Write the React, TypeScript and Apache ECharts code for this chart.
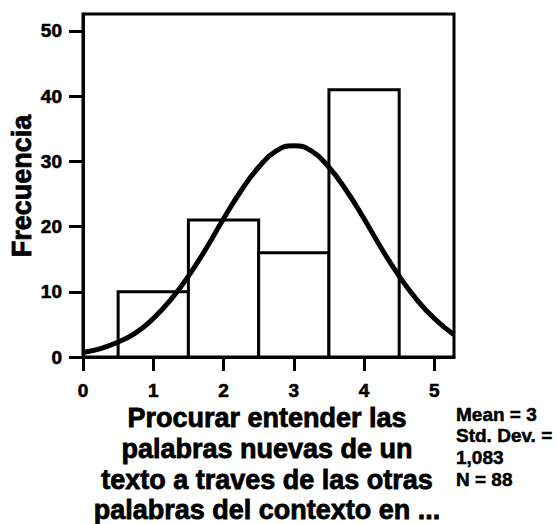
import React, { useEffect, useRef } from "react";
import * as echarts from "echarts";

const binCenters = [1, 2, 3, 4];
const binCounts = [10, 21, 16, 41];
const BIN_WIDTH = 1;

const curveX = [0, 0.25, 0.5, 0.75, 1, 1.25, 1.5, 1.75, 2, 2.25, 2.5, 2.75, 3, 3.25, 3.5, 3.75, 4, 4.25, 4.5, 4.75, 5, 5.28];
const curveY = [0.7, 1.3, 2.3, 3.7, 5.9, 8.8, 12.4, 16.6, 21.2, 25.5, 29.1, 31.6, 32.4, 31.6, 29.1, 25.5, 21.2, 16.6, 12.4, 8.8, 5.9, 3.4];

const xTicks = [0, 1, 2, 3, 4, 5];
const yTicks = [0, 10, 20, 30, 40, 50];

const yTitle = "Frecuencia";
const xTitleLines = [
  "Procurar entender las",
  "palabras nuevas de un",
  "texto a traves de las otras",
  "palabras del contexto en ...",
];
const statsLines = ["Mean = 3", "Std. Dev. =", "1,083", "N = 88"];

const FONT = "'Liberation Sans', Arial, sans-serif";

export default function App() {
  const ref = useRef<HTMLDivElement>(null);
  useEffect(() => {
    if (!ref.current) return;
    const chart = echarts.init(ref.current, null, { renderer: "svg" });
    const histData = binCenters.map((c, i) => [c, binCounts[i]]);
    const curveData = curveX.map((x, i) => [x, curveY[i]]);
    const labelStyle = {
      color: "#000",
      fontFamily: FONT,
      fontWeight: "bold",
      fontSize: 19,
      textBorderColor: "#000",
      textBorderWidth: 0.6,
    };
    chart.setOption({
      animation: false,
      backgroundColor: "#fff",
      grid: {
        left: 83,
        top: 14,
        right: 103,
        bottom: 167,
        show: true,
        borderColor: "#000",
        borderWidth: 3,
        backgroundColor: "transparent",
      },
      xAxis: {
        type: "value",
        min: 0,
        max: 5.28,
        axisLine: { show: true, lineStyle: { color: "#000", width: 3 } },
        axisTick: { show: true, customValues: xTicks, length: 14, lineStyle: { color: "#000", width: 3 } },
        axisLabel: { customValues: xTicks, margin: 24, ...labelStyle },
        splitLine: { show: false },
      },
      yAxis: {
        type: "value",
        min: 0,
        max: 52.6,
        axisLine: { show: true, lineStyle: { color: "#000", width: 3 } },
        axisTick: { show: true, customValues: yTicks, length: 14, lineStyle: { color: "#000", width: 3 } },
        axisLabel: { customValues: yTicks, margin: 21, ...labelStyle },
        splitLine: { show: false },
      },
      series: [
        {
          type: "custom",
          data: histData,
          z: 2,
          renderItem: (params: any, api: any) => {
            const x = api.value(0);
            const y = api.value(1);
            const p0 = api.coord([x - BIN_WIDTH / 2, y]);
            const p1 = api.coord([x + BIN_WIDTH / 2, 0]);
            return {
              type: "rect",
              shape: { x: p0[0], y: p0[1], width: p1[0] - p0[0], height: p1[1] - p0[1] },
              style: { fill: "#fff", stroke: "#000", lineWidth: 3 },
            };
          },
        },
        {
          type: "line",
          data: curveData,
          smooth: true,
          showSymbol: false,
          z: 3,
          lineStyle: { color: "#000", width: 5 },
        },
      ],
      graphic: [
        {
          type: "text",
          x: 22,
          y: 186,
          rotation: Math.PI / 2,
          style: {
            text: yTitle,
            font: `bold 27px ${FONT}`,
            fill: "#000",
            stroke: "#000",
            lineWidth: 0.8,
            align: "center",
            verticalAlign: "middle",
          },
        },
        ...xTitleLines.map((t, i) => ({
          type: "text",
          x: 267,
          y: 418 + i * 30.8,
          style: {
            text: t,
            font: `bold 27px ${FONT}`,
            fill: "#000",
            stroke: "#000",
            lineWidth: 0.8,
            align: "center",
            verticalAlign: "middle",
          },
        })),
        ...statsLines.map((t, i) => ({
          type: "text",
          x: 456,
          y: 414 + i * 21.7,
          style: {
            text: t,
            font: `bold 19px ${FONT}`,
            fill: "#000",
            stroke: "#000",
            lineWidth: 0.5,
            align: "left",
            verticalAlign: "middle",
          },
        })),
      ],
    });
    return () => chart.dispose();
  }, []);
  return (
    <div
      ref={ref}
      style={{ position: "absolute", left: 0, top: 0, width: 557, height: 524 }}
    />
  );
}
